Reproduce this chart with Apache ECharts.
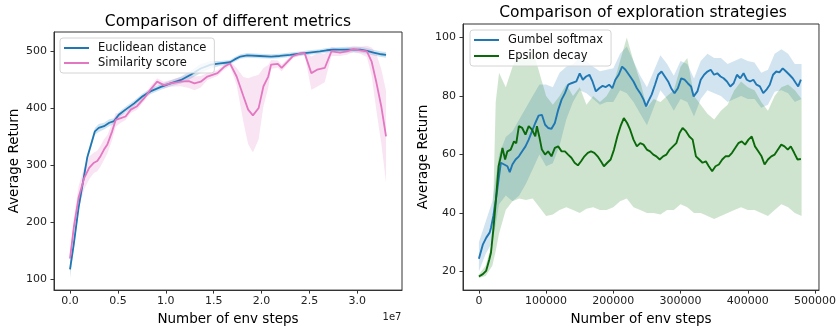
<!DOCTYPE html>
<html>
<head>
<meta charset="utf-8">
<script src="https://cdn.jsdelivr.net/npm/echarts@6/dist/echarts.min.js"></script>
<style>html,body{margin:0;padding:0;background:#fff}#c{width:839px;height:331px}</style>
</head>
<body>
<div id="c"></div>
<script>
// ---------- Left panel: Comparison of different metrics ----------
const EUC_X = [0,400000,900000,1500000,1800000,2200000,2600000,3000000,3550000,4100000,4600000,5100000,5800000,6700000,7550000,8400000,9500000,10500000,11600000,12600000,13650000,14700000,15700000,16700000,17200000,17800000,18500000,19800000,21000000,21900000,23000000,24000000,25000000,26100000,26800000,27500000,28900000,30300000,31000000,31700000,32500000,33000000];
const EUC_Y = [117,162,226,284,313,336,359,365,368,374,377,388,397,408,420,429,437,443,449,458,469,476,478,480,485,490,492,491,490,491,493,495,497,499,501,502,502,502,500,497,494,493];
const EUC_LO = [102,152,218,277,307,330,353,358,362,368,372,383,392,403,415,424,432,438,443,451,461,469,474,476,481,486,488,487,486,487,489,491,493,495,497,498,497,497,495,492,489,488];
const EUC_HI = [131,172,234,291,319,342,365,372,374,380,382,393,402,413,425,434,442,448,455,465,477,482,482,484,489,494,496,495,494,495,497,499,501,503,505,506,507,507,505,502,499,498];

const SIM_X = [0,400000,900000,1500000,2000000,2500000,2850000,3200000,3550000,3900000,4400000,4770000,5300000,5800000,6350000,7000000,7750000,8400000,9100000,9800000,10500000,11570000,12400000,13000000,13650000,14350000,15400000,16100000,16700000,17400000,18100000,18600000,19100000,19700000,20200000,20700000,21000000,21700000,22100000,22600000,23300000,24000000,24500000,25200000,25800000,26600000,27300000,28200000,28900000,29600000,30300000,31000000,31500000,32000000,32500000,33000000];
const SIM_Y = [136,191,243,278,295,304,307,316,327,336,359,379,382,385,397,403,417,432,446,440,443,446,447,443,446,455,461,472,478,455,421,397,387,400,438,455,476,477,470,479,491,495,496,461,467,470,499,497,499,503,501,499,481,444,403,350];
const SIM_LO = [128,176,223,258,275,286,289,298,309,320,344,367,374,379,391,397,412,426,440,434,437,438,435,431,436,449,456,467,474,440,376,337,322,345,403,435,468,471,464,474,487,492,493,432,437,445,491,491,493,498,495,489,456,394,338,270];
const SIM_HI = [144,206,263,298,315,322,325,334,345,352,374,391,390,391,403,409,422,438,452,446,449,454,459,455,456,461,466,477,482,470,454,452,455,458,470,475,484,483,476,484,495,498,499,490,495,495,507,503,505,508,507,509,506,494,468,430];

const LEFT_XTICKS = [0,5000000,10000000,15000000,20000000,25000000,30000000];
const LEFT_YTICKS = [100,200,300,400,500];

// ---------- Right panel: Comparison of exploration strategies ----------
const GUM_X = [0,6000,11000,16000,18000,21500,25400,29300,32700,37600,42400,45900,49800,54600,59500,64400,69300,74100,79000,83900,88800,93700,98500,103000,108000,113000,118000,123000,128000,133000,137600,145000,150000,154600,159500,164400,169000,174000,179000,184000,188800,193700,198500,203000,208000,213000,218000,220500,225000,230000,235000,240000,245000,248800,252000,257000,262000,266800,271700,276600,281500,286000,291000,296000,301000,305900,310700,315600,319500,322000,325000,330000,335000,340000,344900,349800,354600,359500,364000,369000,374000,379000,383900,388800,393700,398500,403400,408300,413000,418000,423000,427800,432700,437600,442400,447000,452000,457000,461900,466800,471700,475000,479000];
const GUM_Y = [24.4,29.3,31.6,33.3,35,39,44.7,51.5,57.2,56.6,56,54,56.6,58.3,59.4,61.1,62.8,65.1,68,70.8,73.3,73.6,70.2,69.1,68.8,70.8,75.3,78.8,81,83.9,84.4,85,87.8,85.6,86.7,87.3,85,81.6,82.7,83.5,83.1,83.9,82.7,85.6,87.3,90.1,89,89.5,86.7,85,82.7,81,78.8,76.5,78.2,80.5,83.9,87.3,88.4,86.7,85,82.7,81,82.7,86.1,85.6,84.4,83.3,79.9,79.3,81.6,85.6,87.3,88.4,89,87.3,87.8,86.7,86.1,85,83.3,84.4,87.3,86.1,87.8,85.6,85,85.6,83.9,83.3,81,82.2,83.9,87.3,88.4,88.1,89.5,88.4,87.3,86.1,84.4,83.3,85.6];

const EPS_X = [0,5900,10700,15600,18000,21500,25400,29300,32700,35100,39000,42400,47300,52200,55600,59500,64400,69300,74100,79000,83900,86300,89800,93700,98500,103000,108000,113000,118000,123000,128000,132700,137600,142400,147300,152000,157000,162000,166800,171700,176600,181500,186000,191000,196000,201000,205900,210700,215600,220500,225000,230000,235000,240000,244900,249800,254600,259500,264000,269000,274000,279000,283900,288800,293700,298500,303000,308000,313000,318000,322900,327800,332700,337600,342000,347000,352000,357000,362000,366800,371700,376600,381500,386000,391000,396000,401000,405900,410700,415600,420500,425000,430000,435000,440000,444900,449800,454600,459500,464000,469000,474000,479000];
const EPS_Y = [18.3,19.1,20.2,24.2,26.5,34.4,44.7,56,59.4,62.3,58.3,61.1,61.7,64.5,63.9,69.7,69.1,66.8,69.7,68.5,66.2,69.7,66.2,61.7,60,61.1,59.4,62.3,62.8,61.1,61.1,60,58.9,57.2,56.3,57.7,59.4,60.6,61.1,60.6,59.4,57.7,56,57.2,58.3,61.7,66.2,69.7,72.5,70.8,68.5,65.1,62.8,63.9,63.4,61.7,61.1,60,59.4,58.3,59.4,60,61.7,62.8,63.9,67.4,69.1,68,66.2,65.1,59.4,58.3,57.2,57.7,56,54.3,56,56.6,58.3,59.4,59.4,60.6,62.3,63.9,64.5,63.4,65.1,66.2,62.8,61.1,59.4,56.6,58.3,59.4,60,61.7,63.4,62.8,61.7,62.8,60.6,58.3,58.5];

const BAND_R_X = [0,10000,20000,25000,30000,40000,50000,60000,70000,80000,90000,100000,110000,120000,130000,140000,150000,160000,170000,180000,190000,200000,210000,220000,230000,240000,250000,260000,270000,280000,290000,300000,310000,320000,330000,340000,350000,360000,370000,380000,390000,400000,410000,420000,430000,440000,450000,460000,470000,480000];
const GUM_LO = [20,26,30,36,43,46,44,46,50,55,60,56,57,63,72,78,82,81,79,77,78,78,82,81,78,74,70,76,82,79,75,79,78,73,79,82,81,80,78,79,80,79,79,76,77,81.5,82,81,78,79];
const GUM_HI = [30,37,44,52,60,66,68,72,76,80,84,84,83,88,90,91,93,92,90,88.5,89,89.5,94.5,97,92,87,83,88.5,94,91,87,92,91,86,92,94.5,93,93,91,92,93,92,91.5,88,89,94.5,96,94.5,91,91];
const EPS_LO = [17.8,18.5,22,27,33,41,44,45,44.5,45,42,39,39.5,41,42,41,40,41.5,42,41,41,42,44,45,42,41,40,40,39.5,41,41,43,42,40,40,39,38,39,40,41,42,41,41,40,39,41,43,42,40,39];
const EPS_HI = [19,22,30,78,88,83,90,95,92,96,88,80,77,80,84,80,83,77,80,78,80,84,92,100,92,85,76,79,78,80,82,90,93,80,77,74,72,75,77,82,85,83,82,78,75,80,83,84,82,79];

const RIGHT_XTICKS = [0,100000,200000,300000,400000,500000];
const RIGHT_YTICKS = [20,40,60,80,100];

// ---------- styling ----------
const FONT = 'DejaVu Sans';
const C_BLUE = '#1f77b4', C_PINK = '#e377c2', C_GREEN = '#0a690a';
const F_BLUE = 'rgba(31,119,180,0.2)', F_PINK = 'rgba(227,119,194,0.2)', F_GREEN = 'rgba(0,110,0,0.19)';

function pairs(xs, ys) { return xs.map((x, i) => [x, ys[i]]); }

function lineSeries(name, idx, xs, ys, color, w) {
  return { name, type: 'line', xAxisIndex: idx, yAxisIndex: idx, data: pairs(xs, ys),
    showSymbol: false, symbol: 'none', color, lineStyle: { color, width: w },
    itemStyle: { color }, z: 2, silent: true };
}

function bandSeries(idx, xs, lo, hi, fill) {
  return { type: 'custom', xAxisIndex: idx, yAxisIndex: idx, silent: true, clip: true, z: 2,
    data: xs.map((x, i) => [x, lo[i], hi[i]]), encode: { x: 0, y: [1, 2] },
    renderItem: function (params, api) {
      if (params.dataIndex !== 0) return;
      const pts = [];
      for (let i = 0; i < xs.length; i++) pts.push(api.coord([xs[i], hi[i]]));
      for (let i = xs.length - 1; i >= 0; i--) pts.push(api.coord([xs[i], lo[i]]));
      return { type: 'polygon', shape: { points: pts }, style: { fill: fill, stroke: null } };
    } };
}

function xAxis(idx, min, max, ticks, fmt) {
  return { type: 'value', gridIndex: idx, min, max, splitLine: { show: false },
    name: 'Number of env steps', nameLocation: 'middle', nameGap: 21,
    nameTextStyle: { fontFamily: FONT, fontSize: 13.5, color: '#000' },
    axisLine: { show: true, onZero: false, lineStyle: { color: '#333', width: 1 } },
    axisTick: { show: true, length: 3.5, lineStyle: { color: '#333' }, customValues: ticks },
    axisLabel: { fontFamily: FONT, fontSize: 11, color: '#222', margin: 6, customValues: ticks, formatter: fmt } };
}
function yAxis(idx, min, max, ticks) {
  return { type: 'value', gridIndex: idx, min, max, splitLine: { show: false },
    name: 'Average Return', nameLocation: 'middle', nameGap: 33, nameRotate: 90,
    nameTextStyle: { fontFamily: FONT, fontSize: 13.5, color: '#000' },
    axisLine: { show: true, onZero: false, lineStyle: { color: '#333', width: 1 } },
    axisTick: { show: true, length: 3.5, lineStyle: { color: '#333' }, customValues: ticks },
    axisLabel: { fontFamily: FONT, fontSize: 11, color: '#222', margin: 7, customValues: ticks } };
}
function legend(left, top, names, gap) {
  return { left, top, orient: 'vertical', data: names, icon: 'rect', itemWidth: 25, itemHeight: 2,
    itemGap: gap, padding: [4, 8, 4, 4], selectedMode: false,
    backgroundColor: 'rgba(255,255,255,0.8)', borderColor: '#d4d4d4', borderWidth: 1, borderRadius: 3,
    textStyle: { fontFamily: FONT, fontSize: 11.5, color: '#111', padding: [0, 0, 0, 4] } };
}

const chart = echarts.init(document.getElementById('c'), null, { renderer: 'canvas' });
chart.setOption({
  animation: false,
  backgroundColor: '#fff',
  grid: [
    { left: 54, top: 32, width: 348, height: 260, show: true, borderColor: '#333', borderWidth: 1, backgroundColor: 'transparent' },
    { left: 463, top: 24, width: 359, height: 267, show: true, borderColor: '#333', borderWidth: 1, backgroundColor: 'transparent' }
  ],
  xAxis: [
    xAxis(0, -1670000, 34667000, LEFT_XTICKS, v => (v / 1e7).toFixed(1)),
    xAxis(1, -23645, 505900, RIGHT_XTICKS, v => String(v))
  ],
  yAxis: [
    yAxis(0, 80.9, 533, LEFT_YTICKS),
    yAxis(1, 13.64, 104.66, RIGHT_YTICKS)
  ],
  legend: [
    legend(60, 38, ['Euclidean distance', 'Similarity score'], 3),
    legend(470, 30, ['Gumbel softmax', 'Epsilon decay'], 4)
  ],
  graphic: [
    { type: 'text', style: { text: 'Comparison of different metrics', font: '15.5px "DejaVu Sans"', fill: '#000', textAlign: 'center', textVerticalAlign: 'middle', x: 228, y: 22 } },
    { type: 'text', style: { text: 'Comparison of exploration strategies', font: '15.5px "DejaVu Sans"', fill: '#000', textAlign: 'center', textVerticalAlign: 'middle', x: 643, y: 13 } },
    { type: 'text', style: { text: '1e7', font: '10px "DejaVu Sans"', fill: '#222', textAlign: 'center', textVerticalAlign: 'middle', x: 392, y: 317 } }
  ],
  series: [
    lineSeries('Euclidean distance', 0, EUC_X, EUC_Y, C_BLUE, 1.8),
    bandSeries(0, EUC_X, EUC_LO, EUC_HI, F_BLUE),
    lineSeries('Similarity score', 0, SIM_X, SIM_Y, C_PINK, 1.8),
    bandSeries(0, SIM_X, SIM_LO, SIM_HI, F_PINK),
    lineSeries('Gumbel softmax', 1, GUM_X, GUM_Y, C_BLUE, 1.9),
    bandSeries(1, BAND_R_X, GUM_LO, GUM_HI, F_BLUE),
    lineSeries('Epsilon decay', 1, EPS_X, EPS_Y, C_GREEN, 1.9),
    bandSeries(1, BAND_R_X, EPS_LO, EPS_HI, F_GREEN)
  ]
});
</script>
</body>
</html>
